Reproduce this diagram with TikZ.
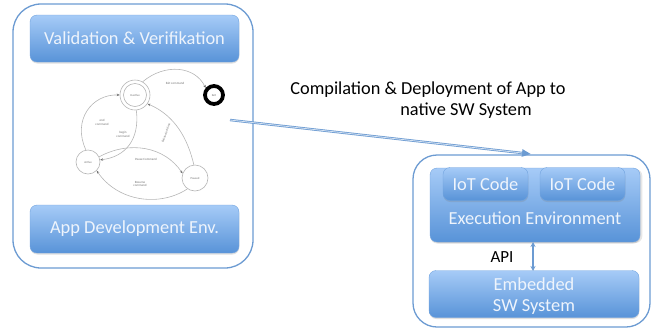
\documentclass[tikz,border=0pt]{standalone}
\usepackage{fontspec}
\setmainfont{Carlito}
\usetikzlibrary{arrows.meta,shadows}
\definecolor{frame}{HTML}{6C9BD2}
\definecolor{btop}{HTML}{A6CBF7}
\definecolor{bbot}{HTML}{5893D8}
\definecolor{btext}{HTML}{EEF4FC}
\definecolor{sline}{HTML}{B5B5B5}
\definecolor{stext}{HTML}{707070}
\tikzset{
 outer/.style={draw=frame, line width=1.3pt, rounded corners=28pt, inner sep=0pt},
 button/.style={rounded corners=7pt, top color=btop, bottom color=bbot, draw=bbot!85!white,
   line width=0.4pt, inner sep=0pt, drop shadow={opacity=0.25, shadow xshift=0.3pt, shadow yshift=-1.5pt}},
 btxt/.style={text=btext, font=\fontsize{18.4}{20.5}\selectfont, align=center},
 state/.style={circle, draw=sline, line width=0.6pt, inner sep=0pt, font=\fontsize{3}{3.5}\selectfont, text=stext},
 tr/.style={draw=sline, line width=0.6pt, -{Stealth[length=3pt,width=2.5pt,color=stext]}},
 tl/.style={font=\fontsize{3.2}{3.8}\selectfont, text=stext, align=center},
 lbl/.style={font=\fontsize{18.3}{21}\selectfont, text=black},
}
\begin{document}
\begin{tikzpicture}[x=1pt,y=-1pt]
\useasboundingbox (0,0) rectangle (658,330);
% left outer frame
\node[outer, minimum width=240pt, minimum height=264pt] (L) at (133,136) {};
\node[button, minimum width=209pt, minimum height=47pt] (val) at (134.5,38.5) {};
\node[btxt] at (val) {Validation \& Verifikation};
\node[button, minimum width=209pt, minimum height=48pt] (app) at (134.5,229) {};
\node[btxt] at (app) {App Development Env.};
% state diagram
\node[state, minimum size=30pt] (ina) at (135,95) {};
\node[state, minimum size=23pt] (inai) at (135,95) {Inactive};
\node[state, draw=black, line width=3.8pt, minimum size=18pt] (exit) at (214,95) {Exit};
\node[state, minimum size=24pt] (act) at (88,162) {Active};
\node[state, minimum size=26pt] (pau) at (195,178) {Paused};
\draw[tr] (ina.60) .. controls (165,63) and (195,66) .. (exit.140);
\node[tl] (l1) at (175,83) {Exit command};
\draw[tr] (act.100) .. controls (72,120) and (92,94) .. (ina.180);
\node[tl] (l2) at (102,122) {end\\command};
\draw[tr] (ina.-85) .. controls (140,140) and (125,157) .. (act.10);
\node[tl] (l3) at (123,134) {begin\\command};
\draw[tr] (pau.95) .. controls (188,140) and (176,116) .. (ina.-35);
\node[tl, rotate=70] (l4) at (166,133) {Exhausted time};
\draw[tr] (act.25) .. controls (130,140) and (165,147) .. (pau.160);
\node[tl] (l5) at (146,159) {Pause Command};
\draw[tr] (pau.235) .. controls (160,207) and (118,202) .. (act.-45);
\node[tl] (l6) at (140,184) {Resume\\command};
% right outer frame
\node[outer, minimum width=237pt, minimum height=172pt, rounded corners=24pt] (R) at (531.5,241) {};
\node[button, minimum width=210pt, minimum height=74pt, drop shadow={opacity=0.2, shadow yshift=-1pt}] (exec) at (535,205) {};
\node[btxt] at (535,218) {Execution Environment};
\node[button, minimum width=85pt, minimum height=33pt] (iot1) at (485.5,184) {};
\node[btxt] at (iot1) {IoT Code};
\node[button, minimum width=85pt, minimum height=33pt] (iot2) at (582.5,184) {};
\node[btxt] at (iot2) {IoT Code};
\node[button, minimum width=210pt, minimum height=47pt] (emb) at (534,294) {};
\node[btxt] at (534,296) {Embedded\\SW System};
\draw[frame, line width=1.4pt, {Stealth[length=5pt,width=5pt]}-{Stealth[length=5pt,width=5pt]}] (533,242) coordinate (a1) -- (533,271) coordinate (a2);
\node[lbl, font=\fontsize{17}{20}\selectfont] (api) at (502,257) {API};
% deployment arrow
\coordinate (s) at (230,120);
\coordinate (t) at (531,154);
\draw[frame, line width=2.4pt, -{Triangle[length=9pt,width=7pt]}] (s) -- (t);
\draw[white!70!frame, line width=0.8pt, shorten >=9pt] (s) -- (t);
\node[lbl] (c1) at (428,90) {Compilation \& Deployment of App to};
\node[lbl] (c2) at (466,111) {native SW System};
\end{tikzpicture}
\end{document}
